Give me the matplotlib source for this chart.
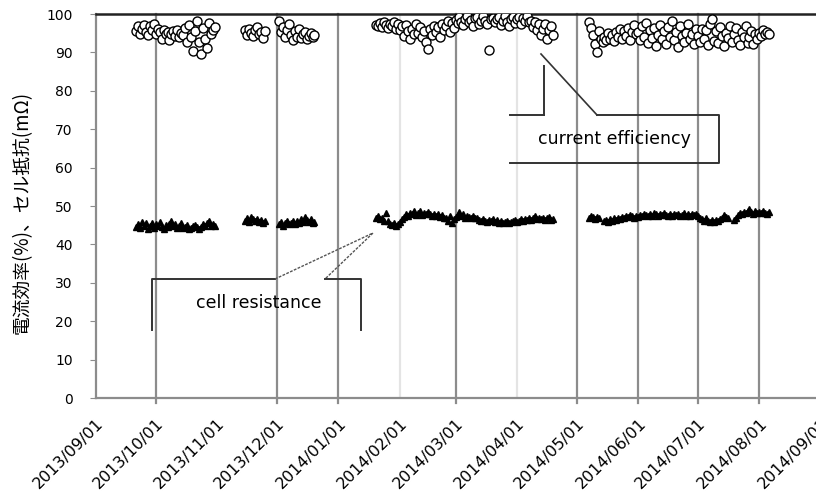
import numpy as np
import pandas as pd
import matplotlib
matplotlib.use("Agg")
import matplotlib.pyplot as plt
from matplotlib.transforms import Affine2D, ScaledTranslation

plt.rcParams['font.family'] = ['DejaVu Sans', 'Noto Sans CJK JP']

# ---------------- data ----------------
seg_starts = ["2013-09-21", "2013-11-15", "2013-12-02", "2014-01-20", "2014-05-07"]

eff_1 = [95.5, 96.8, 94.9, 96.2, 97.1, 95.3, 94.6, 96.9, 95.8, 97.5, 94.8, 96.1, 95.2, 93.6,
         95.9, 94.7, 95.4, 93.2, 94.9, 95.6, 94.3, 95.8, 93.9, 95.1, 94.5, 96.4, 92.8, 97.2,
         94.1, 90.3, 95.7, 98.1, 92.6, 89.5, 96.3, 93.4, 91.2, 97.6, 94.8, 95.9, 96.7]
res_1 = [44.6, 45.3, 44.2, 45.8, 44.9, 45.5, 44.1, 44.8, 45.6, 44.3, 45.2, 44.7, 45.9, 44.5,
         44.0, 45.1, 44.6, 45.4, 46.0, 44.8, 45.3, 44.4, 44.9, 45.7, 44.2, 44.6, 45.1, 43.9,
         44.3, 44.7, 45.0, 44.5, 44.1, 44.6, 45.2, 44.8, 45.5, 46.1, 44.9, 45.4, 44.7]

eff_2 = [95.8, 94.6, 96.2, 95.1, 94.3, 95.9, 96.5, 94.8, 95.4, 93.8, 95.6]
res_2 = [46.2, 46.8, 45.9, 47.1, 46.5, 46.0, 46.6, 45.8, 46.3, 45.7, 46.1]

eff_3 = [98.3, 95.2, 96.7, 94.1, 95.8, 97.5, 94.6, 93.2, 95.5, 94.0, 96.1, 93.7, 94.8, 95.3,
         93.5, 94.4, 95.0, 93.9, 94.6]
res_3 = [45.2, 45.8, 44.9, 45.5, 46.1, 45.3, 45.7, 46.0, 45.4, 46.2, 45.6, 46.5, 45.9, 47.2,
         46.3, 45.8, 46.6, 45.5, 45.9]

eff_4 = [97.2, 96.8, 97.6, 96.5, 97.9, 97.1, 96.3, 97.4, 96.9, 97.8, 96.1, 97.3,
         95.8, 96.9, 94.2, 97.1, 95.5, 93.4, 96.2, 94.7, 97.4, 95.1, 96.5, 93.9, 95.7, 92.6,
         90.9, 96.1, 94.5, 97.0, 95.3, 96.6, 94.1, 97.5, 95.9, 96.8, 98.2, 95.4, 97.7, 96.3,
         98.4, 97.6, 99.1, 98.0, 97.2, 98.8, 99.4, 97.9, 98.5, 96.8, 98.9, 99.2, 97.5, 98.3,
         99.6, 98.1, 97.4, 90.6, 98.7, 99.0, 97.8, 98.6, 99.3, 97.1, 98.2, 99.5, 98.0, 96.9,
         98.8, 99.1, 97.7,
         98.6, 99.2, 97.4, 98.9, 98.1, 99.4, 97.8, 98.3, 96.7, 97.9, 95.8, 97.3, 94.6, 96.2,
         97.5, 93.4, 95.9, 96.8, 94.5]
res_4 = [46.8, 47.3, 46.5, 47.0, 46.2, 48.3, 46.0, 45.4, 45.0, 45.6, 44.8, 45.3,
         45.9, 46.5, 47.2, 47.8, 47.4, 48.2, 47.9, 48.6, 47.6, 48.1, 48.8, 47.7, 48.3, 47.9,
         48.5, 47.8, 47.3, 48.0, 47.5, 47.9, 47.2, 47.6, 47.0, 46.8, 46.1, 47.4, 45.5, 46.6,
         47.1, 47.6, 48.4, 47.3, 47.8, 46.9, 47.5, 47.2, 46.8, 47.4, 46.9, 47.0, 46.3, 46.0,
         46.5, 46.2, 45.9, 46.4, 46.1, 46.6, 45.8, 46.3, 45.7, 46.0, 45.6, 45.9, 46.2, 45.5,
         45.8, 46.1, 46.4,
         45.9, 46.2, 46.5, 46.0, 46.7, 46.3, 46.8, 46.4, 46.9, 47.5, 46.6, 47.0, 46.5, 46.8,
         46.3, 46.9, 47.1, 46.4, 46.7]

eff_5 = [97.9, 96.4, 94.6, 92.3, 90.2, 95.5, 93.4,
         92.8, 94.1, 93.2, 95.0, 93.6, 94.5, 92.9, 95.3, 94.0, 96.1, 93.5, 95.6, 94.3, 96.4,
         93.1, 95.2, 97.2, 94.8,
         95.4, 93.2, 96.8, 94.1, 97.6, 92.5, 95.9, 93.8, 96.3, 91.7, 94.6, 97.1, 93.4, 95.7,
         92.2, 96.5, 94.0, 98.2, 93.1, 95.3, 91.5, 96.9, 94.4, 92.8, 95.1, 97.4, 93.6, 94.9,
         92.1, 96.0,
         94.3, 92.6, 96.1, 93.5, 95.8, 91.9, 97.3, 98.6, 93.0, 95.5, 92.4, 96.6, 94.2, 91.6,
         95.0, 93.7, 97.0, 92.7, 94.8, 96.3, 93.2, 91.8, 95.4, 94.0, 96.9, 92.5, 93.9, 95.6,
         92.2, 94.7, 93.6,
         95.1, 94.3, 95.8, 94.7, 95.4, 94.9]
res_5 = [46.9, 47.4, 47.1, 46.7, 47.2, 46.8, np.nan,
         np.nan, 46.0, 46.3, 45.9, 46.5, 46.2, 46.8, 46.4, 47.0, 46.6, 47.2, 46.9, 47.4, 47.1,
         47.6, 47.3, 47.0, 47.5,
         47.2, 47.7, 47.4, 48.0, 47.6, 47.3, 47.9, 47.5, 48.1, 47.8, 47.4, 47.9, 47.6, 48.2,
         47.7, 47.3, 47.8, 47.5, 48.0, 47.6, 47.9, 47.4, 47.7, 48.1, 47.5, 47.8, 47.3, 47.9,
         47.6, 48.0,
         47.4, 46.9, 46.5, 46.2, 46.8, 46.0, 45.8, 46.3, 45.9, 46.4, 46.1, 46.7, 47.0, 47.6,
         47.2, 46.8, np.nan, np.nan, 46.3, 47.0, 47.6, 48.2, 47.9, 48.5, 48.1, 48.7, 49.3,
         48.4, 48.0, 48.6, 48.2,
         48.4, 48.1, 48.6, 48.3, 48.0, 48.5]

eff_series = [eff_1, eff_2, eff_3, eff_4, eff_5]
res_series = [res_1, res_2, res_3, res_4, res_5]

month_ticks = pd.date_range("2013-09-01", "2014-09-01", freq="MS")
grid_dates = ["2013-10-01", "2013-12-01", "2014-01-01", "2014-03-01",
              "2014-05-01", "2014-06-01", "2014-07-01", "2014-08-01"]
light_grid_dates = ["2014-02-01", "2014-04-01"]
y_ticks = list(range(0, 101, 10))
y_label = "電流効率(%)、セル抵抗(mΩ)"
label_eff = "current efficiency"
label_res = "cell resistance"

# ---------------- figure ----------------
W, H = 816, 497
fig = plt.figure(figsize=(W / 100, H / 100), dpi=100)
ax = fig.add_axes([96 / W, (H - 398) / H, (821 - 96) / W, 384 / H])

for start, e, r in zip(seg_starts, eff_series, res_series):
    d = pd.date_range(start, periods=len(e), freq="D")
    ax.plot(d, e, linestyle="none", marker="o", markersize=6.5, markerfacecolor="white",
            markeredgecolor="black", markeredgewidth=1.0, zorder=3)
    d2 = pd.date_range(start, periods=len(r), freq="D")
    ax.plot(d2, r, linestyle="none", marker="^", markersize=5, color="black", zorder=3)

for g in grid_dates:
    ax.axvline(pd.Timestamp(g), ymin=-0.012, ymax=1, color="#8c8c8c", lw=1.6, zorder=1,
               clip_on=False)
for g in light_grid_dates:
    ax.axvline(pd.Timestamp(g), color="#e4e4e4", lw=1.6, zorder=1)

ax.set_xlim(month_ticks[0], month_ticks[-1])
ax.set_ylim(0, 100)
ax.set_yticks(y_ticks)
ax.set_yticklabels([str(v) for v in y_ticks], fontsize=10)
ax.set_xticks(month_ticks)
ax.set_xticklabels([d.strftime("%Y/%m/%d") for d in month_ticks], rotation=45,
                   ha="right", va="top", rotation_mode="anchor", fontsize=11.5)
off = ScaledTranslation(1 / 100, 0, fig.dpi_scale_trans)
for lbl in ax.get_xticklabels():
    lbl.set_transform(lbl.get_transform() + off)
ax.tick_params(axis="x", length=0, pad=13)
ax.tick_params(axis="y", length=4.3, color="#8c8c8c", pad=12.5)

ax.spines["right"].set_visible(False)
ax.spines["left"].set_color("#8c8c8c")
ax.spines["left"].set_linewidth(1.6)
ax.spines["bottom"].set_color("#8c8c8c")
ax.spines["bottom"].set_linewidth(1.6)
ax.spines["top"].set_color("#222222")
ax.spines["top"].set_linewidth(1.8)

fig.text(22 / W, 1 - 212 / H, y_label, rotation=90, ha="center", va="center", fontsize=13.5,
         family=['Noto Sans CJK JP', 'DejaVu Sans'])

# ---------------- callouts (figure pixel coords, y from top) ----------------
pix = Affine2D().scale(1, -1).translate(0, H)
lc = "#333333"
def line(xs, ys, **kw):
    fig.add_artist(plt.Line2D(xs, ys, transform=pix, **kw))

# current efficiency callout
line([510, 544], [115, 115], color=lc, lw=1.4)
line([544, 544], [115, 66], color=lc, lw=1.4)
line([541, 597], [54, 115], color=lc, lw=1.2)
line([597, 719, 719, 510], [115, 115, 163, 163], color=lc, lw=1.4)
fig.text(614 / W, 1 - 139 / H, label_eff, ha="center", va="center", fontsize=12.5)

# cell resistance callout
line([152, 152, 275], [330, 279, 279], color=lc, lw=1.4)
line([275, 373, 325], [279, 233, 279], color="#555555", lw=1.0, linestyle=(0, (2, 1)))
line([325, 361, 361], [279, 279, 330], color=lc, lw=1.4)
fig.text(259 / W, 1 - 303 / H, label_res, ha="center", va="center", fontsize=12.5)

fig.savefig("out.png", dpi=100)
